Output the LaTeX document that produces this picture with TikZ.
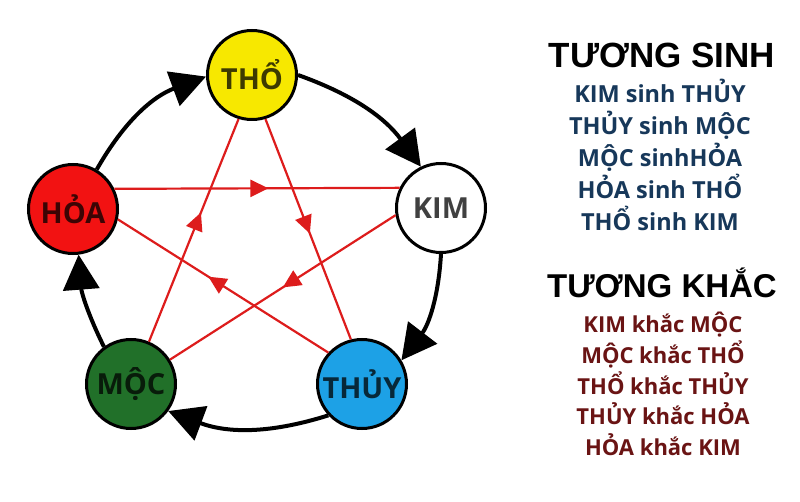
\documentclass[tikz,border=0pt]{standalone}
\usepackage{fontspec}
\setmainfont{Open Sans}
\newfontfamily\headfont{Liberation Sans}
\usetikzlibrary{arrows.meta,decorations.markings}
\definecolor{cyellow}{HTML}{F7E800}
\definecolor{cred}{HTML}{F21212}
\definecolor{cgreen}{HTML}{217029}
\definecolor{cblue}{HTML}{1DA1E6}
\definecolor{linered}{HTML}{DD1C1C}
\definecolor{sinhcol}{HTML}{17385A}
\definecolor{khaccol}{HTML}{6A1414}
\begin{document}
\begin{tikzpicture}[x=1pt,y=-1pt,
  element/.style={circle,draw=black,line width=3pt,minimum size=89pt,inner sep=0pt,
    font=\fontsize{29}{29}\selectfont\bfseries,text=black,text opacity=0.75},
  cycle/.style={line width=4pt,-{Triangle[length=35pt,width=36pt]}},
  khac/.style={linered,line width=2.2pt,postaction={decorate},
    decoration={markings,mark=at position #1 with {\arrow{Triangle[length=18pt,width=17pt]}}}},
  khac/.default=0.55,
  head/.style={anchor=base,font=\headfont\fontsize{35}{35}\selectfont\bfseries,text=black},
  sinhline/.style={anchor=base,font=\fontsize{23.5}{24}\selectfont\bfseries,text=sinhcol},
  khacline/.style={anchor=base,font=\fontsize{22}{24}\selectfont\bfseries,text=khaccol}]
\useasboundingbox[fill=white] (0,0) rectangle (800,502);

\node[element,fill=cyellow] (tho) at (252,75) {THỔ};
\node[element,fill=white] (kim) at (441,208) {KIM};
\node[element,fill=cred] (hoa) at (73,209) {HỎA};
\node[element,fill=cgreen] (moc) at (131,384) {MỘC};
\node[element,fill=cblue] (thuy) at (362,384) {THỦY};

% tuong khac (red star)
\draw[khac=0.54] (hoa.26) -- (kim.154);
\draw[khac=0.52] (tho.-73) -- (thuy.104);
\draw[khac=0.50] (kim.-171) -- (moc.32);
\draw[khac=0.57] (thuy.137) -- (hoa.-13);
\draw[khac=0.58] (moc.67) -- (tho.-107);

% tuong sinh (black cycle)
\draw[cycle] (hoa.59) to[bend left=20] (tho.182);
\draw[cycle] (tho.0) to[bend left=17] (kim.116);
\draw[cycle] (kim.-90) to[bend left=17] (thuy.31);
\draw[cycle] (thuy.-137) to[bend left=19] (moc.-36);
\draw[cycle] (moc.126) to[bend left=11] (hoa.-83);

% legend
\node[head] (h1) at (662,68) {TƯƠNG SINH};
\node[sinhline] (s1) at (660,103) {KIM sinh THỦY};
\node[sinhline] (s2) at (660,135) {THỦY sinh MỘC};
\node[sinhline] (s3) at (660,167) {MỘC sinhHỎA};
\node[sinhline] (s4) at (660,199) {HỎA sinh THỔ};
\node[sinhline] (s5) at (660,231) {THỔ sinh KIM};

\node[head,font=\headfont\fontsize{33}{33}\selectfont\bfseries] (h2) at (662,298) {TƯƠNG KHẮC};
\node[khacline] (k1) at (663,333) {KIM khắc MỘC};
\node[khacline] (k2) at (663,363) {MỘC khắc THỔ};
\node[khacline] (k3) at (663,394) {THỔ khắc THỦY};
\node[khacline] (k4) at (663,424) {THỦY khắc HỎA};
\node[khacline] (k5) at (663,455) {HỎA khắc KIM};
\end{tikzpicture}
\end{document}
